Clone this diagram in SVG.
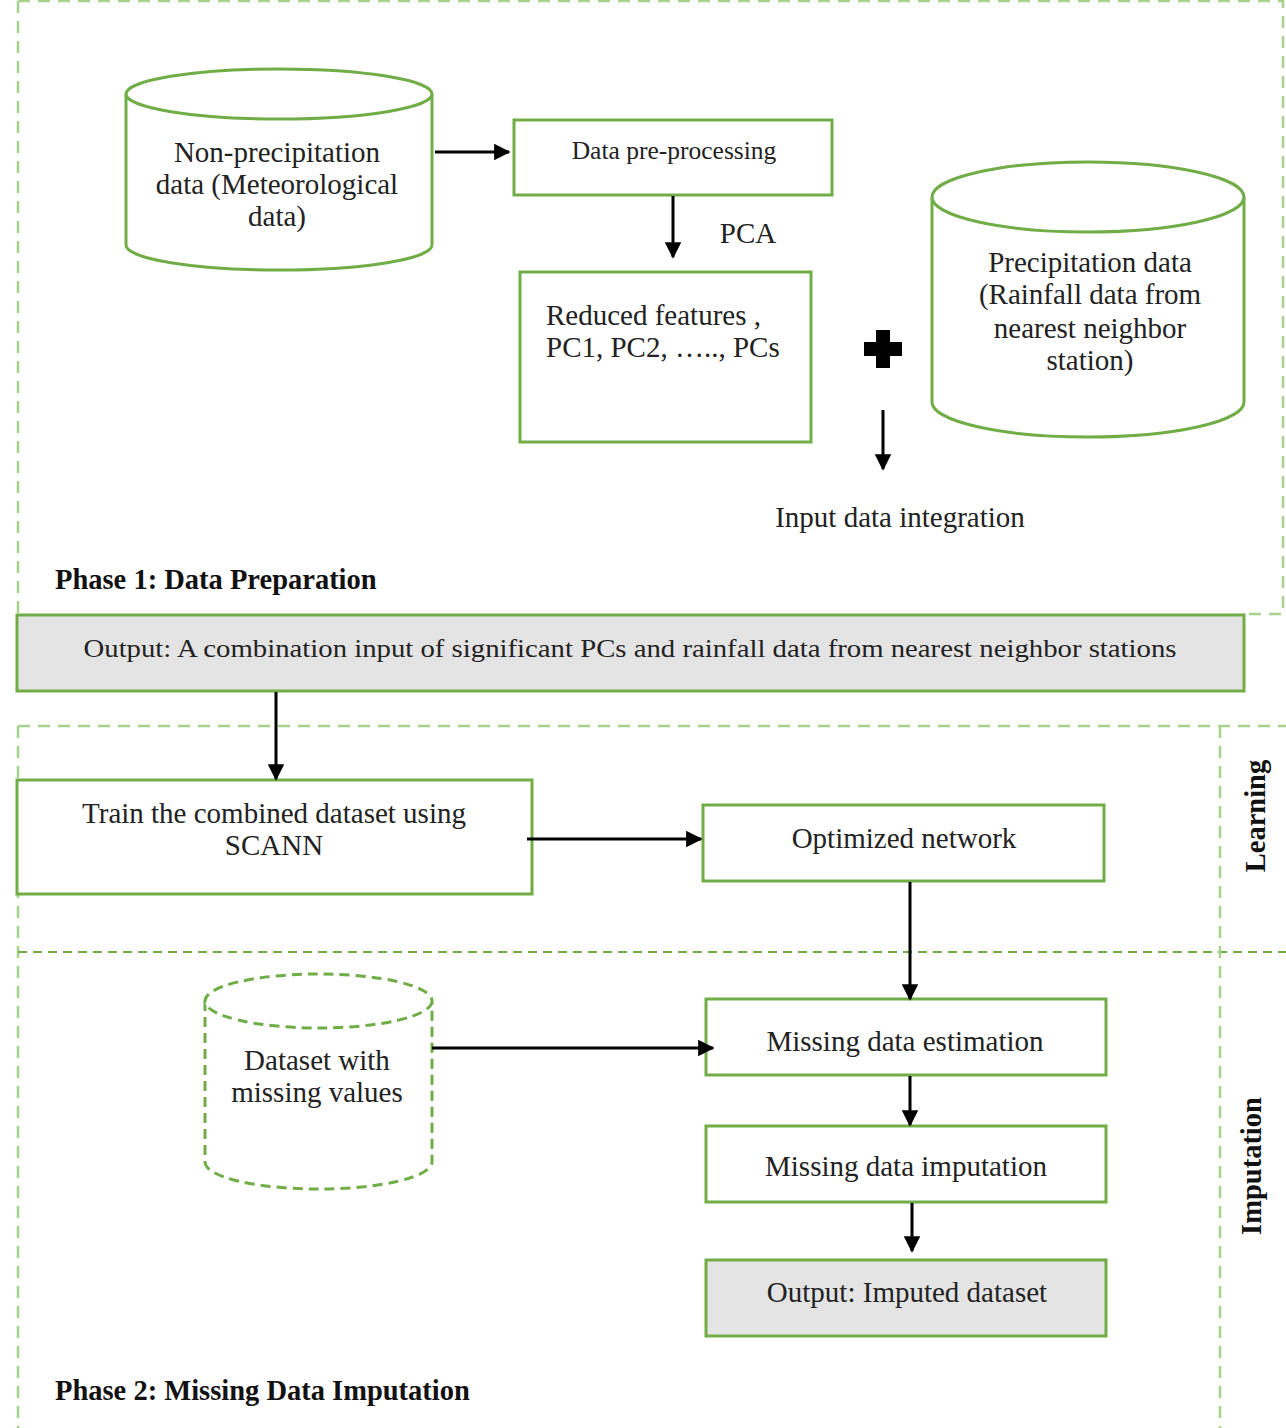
<svg xmlns="http://www.w3.org/2000/svg" width="1286" height="1428" viewBox="0 0 1286 1428">
<style>
.frame{fill:none;stroke:#a9d18e;stroke-width:2.5;stroke-dasharray:12 8}
.frame2{fill:none;stroke:#70ad47;stroke-width:2;stroke-dasharray:9 6}
.box{fill:#fff;stroke:#70ad47;stroke-width:3}
.gbox{fill:#e4e4e4;stroke:#70ad47;stroke-width:3}
.cyl{fill:#fff;stroke:#70ad47;stroke-width:3}
.dcyl{fill:#fff;stroke:#70ad47;stroke-width:3;stroke-dasharray:10 6}
.t{font-family:"Liberation Serif","Times New Roman",serif;font-size:29px;fill:#222;text-anchor:middle;dominant-baseline:central}
.b{font-family:"Liberation Serif","Times New Roman",serif;font-size:28.5px;font-weight:bold;fill:#111;dominant-baseline:central}
.conn{stroke:#000;stroke-width:3;fill:none;marker-end:url(#ah)}
</style>
<defs>
<marker id="ah" viewBox="0 0 10 10" refX="9" refY="5" markerWidth="5.5" markerHeight="5.5" orient="auto" markerUnits="strokeWidth">
<path d="M0,0 L10,5 L0,10 Z" fill="#000"/>
</marker>
</defs>
<rect width="1286" height="1428" fill="#fff"/>

<g id="frames">
<path class="frame" d="M18,1 H1283 V614 H1244"/>
<path class="frame" d="M18,1 V614"/>
<path class="frame" d="M18,726 H1286"/>
<path class="frame" d="M18,726 V1428"/>
<path class="frame2" d="M18,952 H1286"/>
<path class="frame" d="M1220,726 V1428"/>
</g>

<g id="labels">
<text class="b" x="55" y="579">Phase 1: Data Preparation</text>
<text class="b" x="55" y="1390">Phase 2: Missing Data Imputation</text>
<text class="b" transform="translate(1255,816) rotate(-90)" text-anchor="middle">Learning</text>
<text class="b" transform="translate(1251,1166) rotate(-90)" text-anchor="middle">Imputation</text>
</g>

<g id="n-nonprecip">
<path class="cyl" d="M126,94 V245 A153,25 0 0 0 432,245 V94"/>
<ellipse class="cyl" cx="279" cy="94" rx="153" ry="25"/>
<text class="t" x="277" y="152">Non-precipitation</text>
<text class="t" x="277" y="184">data (Meteorological</text>
<text class="t" x="277" y="216">data)</text>
</g>

<g id="n-preproc">
<rect class="box" x="514" y="120" width="318" height="75"/>
<text class="t" x="674" y="150" style="font-size:25.5px">Data pre-processing</text>
</g>

<g id="pca-label">
<text class="t" x="748" y="233">PCA</text>
</g>

<g id="n-reduced">
<rect class="box" x="520" y="272" width="291" height="170"/>
<text class="t" x="546" y="315" style="text-anchor:start">Reduced features ,</text>
<text class="t" x="546" y="347" style="text-anchor:start">PC1, PC2, ….., PCs</text>
</g>

<g id="plus">
<path d="M864,342 H876 V330 H890 V342 H902 V356 H890 V368 H876 V356 H864 Z" fill="#000"/>
</g>

<g id="n-precip">
<path class="cyl" d="M932,197 V402 A156,35 0 0 0 1244,402 V197"/>
<ellipse class="cyl" cx="1088" cy="197" rx="156" ry="35"/>
<text class="t" x="1090" y="262">Precipitation data</text>
<text class="t" x="1090" y="294">(Rainfall data from</text>
<text class="t" x="1090" y="328">nearest neighbor</text>
<text class="t" x="1090" y="360">station)</text>
</g>

<g id="n-integration">
<text class="t" x="900" y="517">Input data integration</text>
</g>

<g id="n-output1">
<rect class="gbox" x="17" y="615" width="1227" height="76"/>
<text class="t" x="630" y="648" style="font-size:26px" textLength="1093" lengthAdjust="spacingAndGlyphs">Output: A combination input of significant PCs and rainfall data from nearest neighbor stations</text>
</g>

<g id="n-train">
<rect class="box" x="17" y="780" width="515" height="114"/>
<text class="t" x="274" y="813">Train the combined dataset using</text>
<text class="t" x="274" y="845">SCANN</text>
</g>

<g id="n-optimized">
<rect class="box" x="703" y="805" width="401" height="76"/>
<text class="t" x="904" y="838">Optimized network</text>
</g>

<g id="n-missingds">
<path class="dcyl" d="M205,1001 V1162 A113.5,27 0 0 0 432,1162 V1001"/>
<ellipse class="dcyl" cx="318.5" cy="1001" rx="113.5" ry="27"/>
<text class="t" x="317" y="1060">Dataset with</text>
<text class="t" x="317" y="1092">missing values</text>
</g>

<g id="n-estimation">
<rect class="box" x="706" y="999" width="400" height="76"/>
<text class="t" x="905" y="1041">Missing data estimation</text>
</g>

<g id="n-imputation">
<rect class="box" x="706" y="1126" width="400" height="76"/>
<text class="t" x="906" y="1166">Missing data imputation</text>
</g>

<g id="n-output2">
<rect class="gbox" x="706" y="1260" width="400" height="76"/>
<text class="t" x="907" y="1292">Output: Imputed dataset</text>
</g>

<g id="connectors">
<line class="conn" x1="435" y1="152" x2="509" y2="152"/>
<line class="conn" x1="673" y1="196" x2="673" y2="257"/>
<line class="conn" x1="883" y1="410" x2="883" y2="469"/>
<line class="conn" x1="276" y1="692" x2="276" y2="779"/>
<line class="conn" x1="527" y1="839" x2="701" y2="839"/>
<line class="conn" x1="910" y1="882" x2="910" y2="999"/>
<line class="conn" x1="432" y1="1048" x2="713" y2="1048"/>
<line class="conn" x1="910" y1="1076" x2="910" y2="1125"/>
<line class="conn" x1="912" y1="1203" x2="912" y2="1251"/>
</g>
</svg>
